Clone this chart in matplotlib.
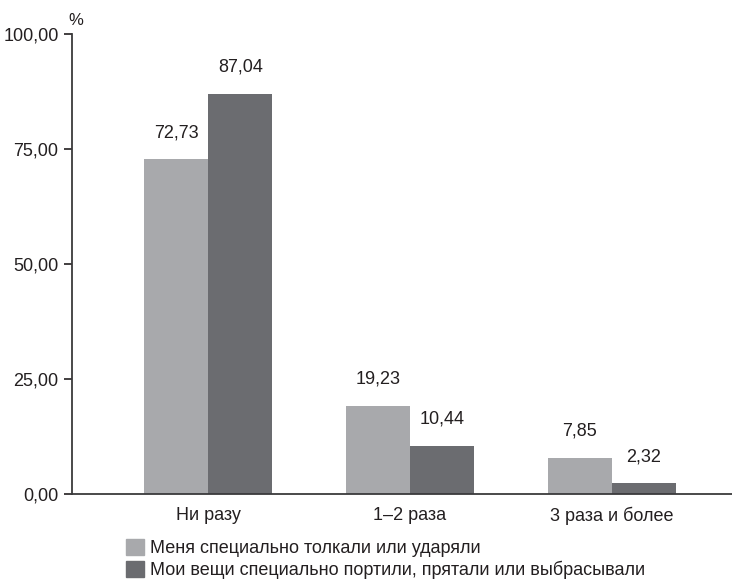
import numpy as np
import matplotlib
matplotlib.use('Agg')
import matplotlib.pyplot as plt
from matplotlib.patches import Patch

plt.rcParams['font.family'] = ['Liberation Sans Narrow', 'Liberation Sans', 'DejaVu Sans']

# данные
categories = ['Ни разу', '1–2 раза', '3 раза и более']
series_names = ['Меня специально толкали или ударяли',
                'Мои вещи специально портили, прятали или выбрасывали']
pushed = [72.73, 19.23, 7.85]
things = [87.04, 10.44, 2.32]
yticks = [0, 25, 50, 75, 100]

light = '#a8a9ac'
dark = '#6b6c70'
txt = '#231f20'
fs = 13

fig = plt.figure(figsize=(7.32, 5.82), dpi=100)
ax = fig.add_axes([0.098, 0.1512, 0.902, 0.7904])

x = np.arange(len(categories))
w = 0.317
b1 = ax.bar(x - w / 2, pushed, w, color=light)
b2 = ax.bar(x + w / 2, things, w, color=dark)

def fmt(v):
    return f'{v:.2f}'.replace('.', ',')

for bars, vals in ((b1, pushed), (b2, things)):
    for r, v in zip(bars, vals):
        ax.annotate(fmt(v), (r.get_x() + r.get_width() / 2, v),
                    xytext=(0, 13), textcoords='offset points',
                    ha='center', va='bottom', fontsize=fs, color=txt)

ax.set_xlim(-0.677, 2.596)
ax.set_ylim(0, 100)
ax.set_yticks(yticks)
ax.set_yticklabels([fmt(v) for v in yticks])
ax.set_xticks(x)
ax.set_xticklabels(categories)
ax.tick_params(axis='y', length=6, width=1.2, pad=3.5, labelsize=fs, colors=txt)
ax.tick_params(axis='x', length=0, pad=9, labelsize=fs, colors=txt)

for s in ['top', 'right']:
    ax.spines[s].set_visible(False)
for s in ['left', 'bottom']:
    ax.spines[s].set_color('#3a3a3c')
    ax.spines[s].set_linewidth(1.3)

fig.text(0.104, 0.965, '%', fontsize=12, color=txt, ha='center', va='center')

handles = [Patch(color=light), Patch(color=dark)]
fig.legend(handles, series_names, loc='upper left', bbox_to_anchor=(0.172, 0.074),
           frameon=False, fontsize=fs, borderpad=0, borderaxespad=0,
           handlelength=1.0, handleheight=1.0, handletextpad=0.35,
           labelspacing=0.2, labelcolor=txt)

fig.savefig('out.png', dpi=100)
